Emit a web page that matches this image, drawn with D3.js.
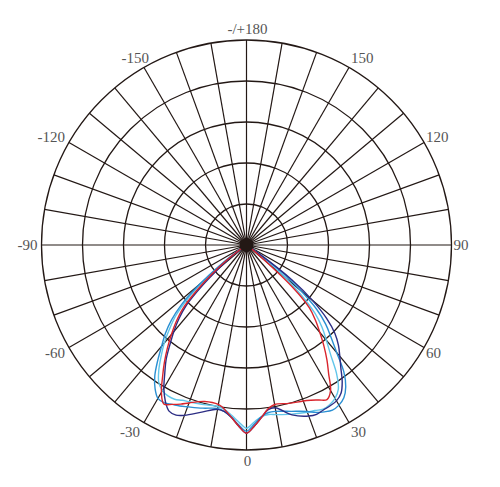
<!DOCTYPE html>
<html>
<head>
<meta charset="utf-8">
<script src="https://cdn.jsdelivr.net/npm/d3@7"></script>
<style>
  body { margin: 0; background: #fff; }
  svg { display: block; }
</style>
</head>
<body>
<div id="polar"></div>
<script>
// angles in degrees, 0 = straight down, positive = to the right
var angles = [-90, -60, -55, -52.5, -50, -47.5, -45, -42.5, -40, -37.5, -35, -32.5, -30, -27.5, -25, -22.5,
    -20, -15, -10, -7.5, -5, -2.5, 0, 2.5, 5, 7.5, 10, 15, 20, 22.5, 25, 27.5, 30, 32.5, 35, 37.5,
    40, 42.5, 45, 47.5, 50, 52.5, 55, 60, 90];

// intensity (cd) per angle for each curve
var redValues = [0, 0, 20, 61, 110, 166, 220, 254, 285, 317, 349, 381, 415, 437, 429, 420,
    410, 395, 395, 405, 422, 442, 459, 442, 422, 403, 395, 400, 405, 410, 417, 425, 410, 373, 342, 310,
    278, 249, 217, 151, 54, 20, 7, 0, 0];
var navyValues = [0, 0, 12, 44, 85, 146, 207, 244, 276, 307, 342, 371, 403, 429, 447, 449,
    442, 422, 407, 410, 422, 442, 459, 442, 422, 405, 403, 429, 444, 447, 444, 442, 439, 429, 407, 378,
    354, 332, 305, 265, 210, 140, 45, 0, 0];
var blueValues = [0, 0, 29, 85, 151, 215, 259, 293, 322, 356, 390, 415, 432, 434, 429, 425,
    420, 412, 405, 410, 422, 439, 454, 437, 420, 412, 412, 420, 432, 442, 449, 454, 451, 442, 422, 390,
    342, 305, 273, 232, 171, 110, 37, 0, 0];
var cyanValues = [0, 0, 24, 73, 134, 195, 244, 278, 312, 342, 373, 398, 410, 415, 415, 410,
    407, 403, 400, 405, 417, 432, 447, 432, 420, 417, 420, 427, 434, 437, 442, 439, 432, 417, 383, 337,
    303, 273, 237, 183, 122, 61, 20, 0, 0];

var ringValues = [100, 200, 300, 400, 500];
var spokeAngles = d3.range(0, 360, 10);
var labelAngles = [0, 30, 60, 90, 120, 150, 180, -150, -120, -90, -60, -30];
var labelTexts = ["0", "30", "60", "90", "120", "150", "-/+180", "-150", "-120", "-90", "-60", "-30"];

var series = [
    { values: cyanValues, color: "#62c6ea" },
    { values: blueValues, color: "#2a8fd2" },
    { values: navyValues, color: "#2c2d84" },
    { values: redValues, color: "#d9242c" }
];

var svgWidth = 500;
var svgHeight = 487;
var cx = 246.5;
var cy = 245;
var outerR = 205;

var svg = d3.select("#polar")
    .append("svg")
    .attr("width", svgWidth)
    .attr("height", svgHeight);

svg.append("rect")
    .attr("width", svgWidth)
    .attr("height", svgHeight)
    .attr("fill", "#fff");

var g = svg.append("g")
    .attr("transform", `translate(${cx}, ${cy})`);

var rScale = d3.scaleLinear()
    .domain([0, 500])
    .range([0, outerR]);

// degrees (0 down, + right) -> d3 radial angle (0 up, clockwise)
function toRad(a) {
    return (180 - a) * Math.PI / 180;
}

// spokes every 10 degrees
g.append("g")
    .selectAll("line")
    .data(spokeAngles)
    .enter()
    .append("line")
    .attr("x1", 0)
    .attr("y1", 0)
    .attr("x2", d => rScale(500) * Math.sin(toRad(d)))
    .attr("y2", d => -rScale(500) * Math.cos(toRad(d)))
    .attr("stroke", "#231815")
    .attr("stroke-width", 1.2);

// rings
g.append("g")
    .selectAll("circle")
    .data(ringValues)
    .enter()
    .append("circle")
    .attr("r", d => rScale(d))
    .attr("fill", "none")
    .attr("stroke", "#231815")
    .attr("stroke-width", 1.3);

// intensity curves
var line = d3.lineRadial()
    .angle((d, i) => toRad(angles[i]))
    .radius(d => rScale(d))
    .curve(d3.curveCatmullRom.alpha(0.5));

g.append("g")
    .selectAll("path")
    .data(series)
    .enter()
    .append("path")
    .attr("d", d => line(d.values))
    .attr("fill", "none")
    .attr("stroke", d => d.color)
    .attr("stroke-width", 1.4);

// dark hub where everything meets
g.append("circle")
    .attr("r", 7)
    .attr("fill", "#231815");

// angle labels
g.append("g")
    .selectAll("text")
    .data(labelAngles)
    .enter()
    .append("text")
    .text((d, i) => labelTexts[i])
    .attr("x", function (d) {
        var px = outerR * Math.sin(toRad(d));
        if (d > 0 && d < 180) return px + 2;
        if (d === -150) return px + 5;
        if (d < 0) return px - 4;
        return px + 1;
    })
    .attr("y", d => -outerR * Math.cos(toRad(d)) + 5 + 11 * Math.cos(d * Math.PI / 180))
    .attr("text-anchor", d => (d > 0 && d < 180) ? "start" : (d < 0 ? "end" : "middle"))
    .attr("font-family", "'Liberation Serif', serif")
    .attr("font-size", "15px")
    .attr("fill", "#555");
</script>
</body>
</html>
